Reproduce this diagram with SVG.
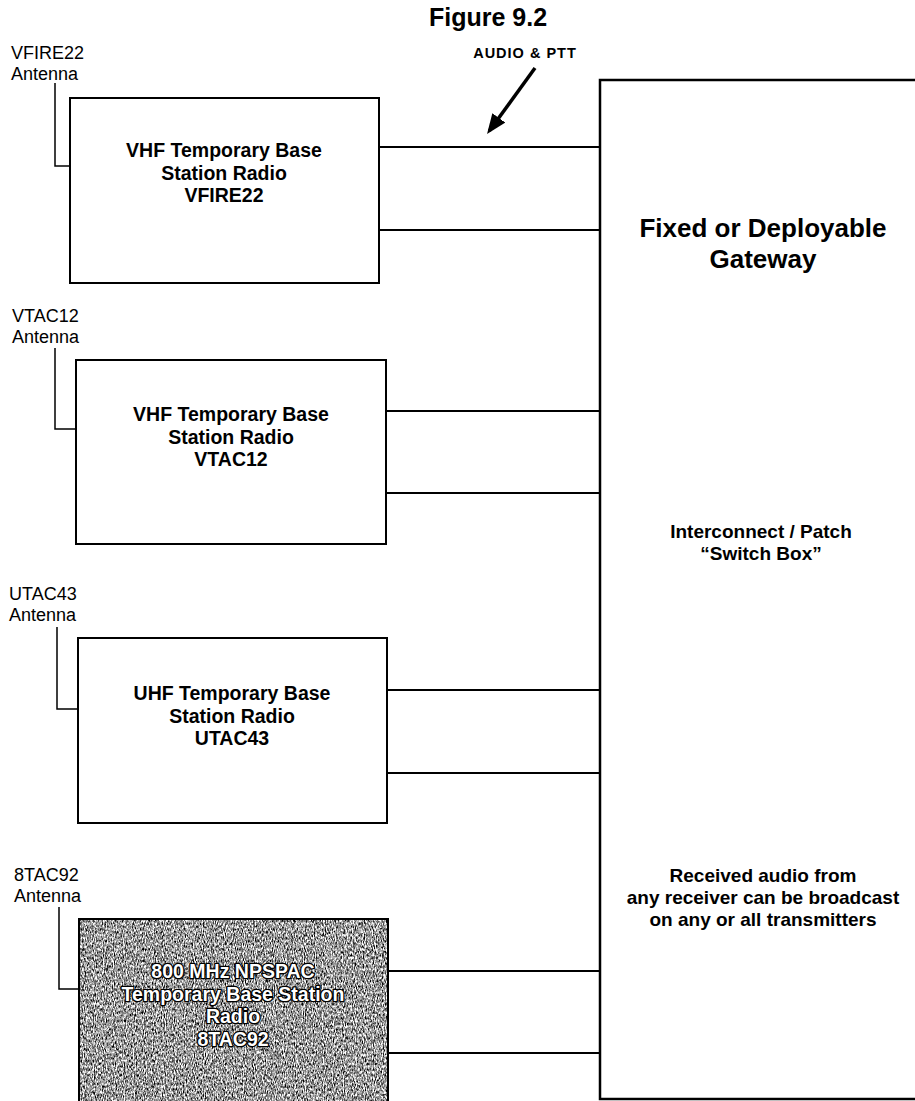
<svg xmlns="http://www.w3.org/2000/svg" width="915" height="1101" viewBox="0 0 915 1101">
<style>
text{font-family:"Liberation Sans",Arial,sans-serif;fill:#000}
.lbl{font-size:18px}
.bt{font-size:19.5px;font-weight:bold;text-anchor:middle}
.gt{font-size:19px;font-weight:bold;text-anchor:middle}
.box{fill:#fff;stroke:#000;stroke-width:2}
.ant{fill:none;stroke:#000;stroke-width:1.5}
.conn{stroke:#000;stroke-width:2;fill:none}
.wt{fill:#fff;stroke:#000;stroke-width:2.6;paint-order:stroke;stroke-linejoin:round}
</style>
<defs>
<marker id="ah" markerWidth="20" markerHeight="16" refX="16" refY="8" orient="auto" markerUnits="userSpaceOnUse">
<path d="M0,0 L20,8 L0,16 Z" fill="#000"/>
</marker>
<filter id="grain" x="0" y="0" width="1" height="1" color-interpolation-filters="sRGB">
<feTurbulence type="fractalNoise" baseFrequency="0.9 0.35" numOctaves="3" seed="7"/>
<feColorMatrix type="matrix" values="0.6 0.4 0 0 0  0.6 0.4 0 0 0  0.6 0.4 0 0 0  0 0 0 0 1"/>
<feComponentTransfer>
<feFuncR type="linear" slope="3" intercept="-0.9"/>
<feFuncG type="linear" slope="3" intercept="-0.9"/>
<feFuncB type="linear" slope="3" intercept="-0.9"/>
</feComponentTransfer>
</filter>
</defs>
<rect width="915" height="1101" fill="#fff"/>

<g id="title">
<text x="488" y="26" style="font-size:25px;font-weight:bold;text-anchor:middle">Figure 9.2</text>
</g>

<g id="audio-ptt-label">
<text x="525" y="58" style="font-size:14.5px;font-weight:bold;letter-spacing:1px;text-anchor:middle">AUDIO &amp; PTT</text>
<line x1="535" y1="68" x2="489.4" y2="130.8" stroke="#000" stroke-width="3.5" marker-end="url(#ah)"/>
</g>

<g id="gateway">
<rect x="600" y="80" width="340" height="1019" fill="#fff" stroke="#000" stroke-width="2.5"/>
<text class="gt" x="763" y="237" style="font-size:26px">Fixed or Deployable</text>
<text class="gt" x="763" y="268" style="font-size:26px">Gateway</text>
<text class="gt" x="761" y="538">Interconnect / Patch</text>
<text class="gt" x="761" y="560">“Switch Box”</text>
<text class="gt" x="763" y="882">Received audio from</text>
<text class="gt" x="763" y="904">any receiver can be broadcast</text>
<text class="gt" x="763" y="926">on any or all transmitters</text>
</g>

<g id="radio-vfire22">
<text class="lbl" x="11" y="59">VFIRE22</text>
<text class="lbl" x="11" y="80">Antenna</text>
<path class="ant" d="M55,83 V166 H70"/>
<rect class="box" x="70" y="98" width="309" height="185"/>
<text class="bt" x="224" y="157">VHF Temporary Base</text>
<text class="bt" x="224" y="180">Station Radio</text>
<text class="bt" x="224" y="202">VFIRE22</text>
</g>

<g id="radio-vtac12">
<text class="lbl" x="12" y="322">VTAC12</text>
<text class="lbl" x="12" y="343">Antenna</text>
<path class="ant" d="M55,348 V429 H76"/>
<rect class="box" x="76" y="360" width="310" height="184"/>
<text class="bt" x="231" y="421">VHF Temporary Base</text>
<text class="bt" x="231" y="444">Station Radio</text>
<text class="bt" x="231" y="466">VTAC12</text>
</g>

<g id="radio-utac43">
<text class="lbl" x="9" y="600">UTAC43</text>
<text class="lbl" x="9" y="621">Antenna</text>
<path class="ant" d="M57,627 V709 H78"/>
<rect class="box" x="78" y="638" width="309" height="185"/>
<text class="bt" x="232" y="700">UHF Temporary Base</text>
<text class="bt" x="232" y="723">Station Radio</text>
<text class="bt" x="232" y="745">UTAC43</text>
</g>

<g id="radio-8tac92">
<text class="lbl" x="14" y="881">8TAC92</text>
<text class="lbl" x="14" y="902">Antenna</text>
<path class="ant" d="M59,907 V989 H79"/>
<rect x="79" y="919" width="309" height="200" fill="#999" filter="url(#grain)"/>
<rect x="79" y="919" width="309" height="200" fill="none" stroke="#000" stroke-width="2"/>
<text class="bt wt" x="233" y="978">800 MHz NPSPAC</text>
<text class="bt wt" x="233" y="1001">Temporary Base Station</text>
<text class="bt wt" x="233" y="1023">Radio</text>
<text class="bt wt" x="233" y="1046">8TAC92</text>
</g>

<g id="connectors">
<line class="conn" x1="379" y1="147" x2="600" y2="147"/>
<line class="conn" x1="379" y1="230" x2="600" y2="230"/>
<line class="conn" x1="386" y1="411" x2="600" y2="411"/>
<line class="conn" x1="386" y1="493" x2="600" y2="493"/>
<line class="conn" x1="387" y1="690" x2="600" y2="690"/>
<line class="conn" x1="387" y1="773" x2="600" y2="773"/>
<line class="conn" x1="388" y1="971" x2="600" y2="971"/>
<line class="conn" x1="388" y1="1053" x2="600" y2="1053"/>
</g>
</svg>
